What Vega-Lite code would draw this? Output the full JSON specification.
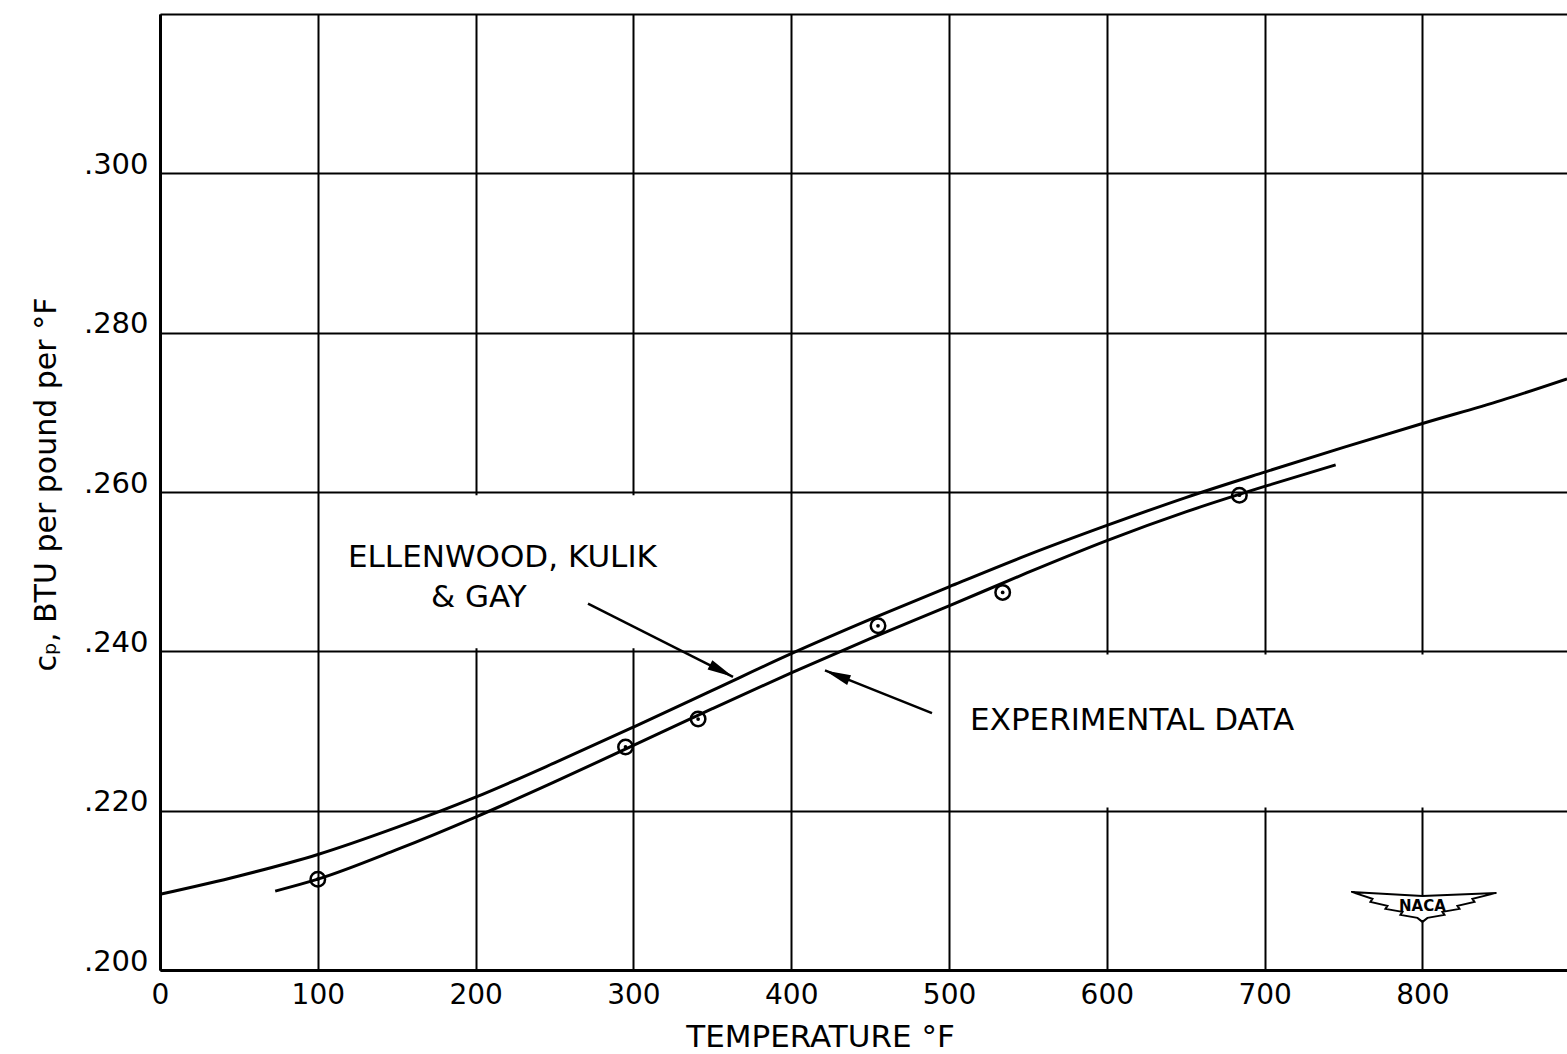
{
  "$schema": "https://vega.github.io/schema/vega-lite/v6.json",
  "width": 1407,
  "height": 956,
  "autosize": {"type": "none"},
  "padding": {"left": 160, "top": 14, "right": 0, "bottom": 84},
  "background": "white",
  "config": {"view": {"stroke": null}, "font": "DejaVu Sans"},
  "datasets": {
    "curves": [
      {"series": "Ellenwood, Kulik & Gay", "temp": 0, "cp": 0.2095},
      {"series": "Ellenwood, Kulik & Gay", "temp": 50, "cp": 0.2118},
      {"series": "Ellenwood, Kulik & Gay", "temp": 100, "cp": 0.2145},
      {"series": "Ellenwood, Kulik & Gay", "temp": 150, "cp": 0.2179},
      {"series": "Ellenwood, Kulik & Gay", "temp": 200, "cp": 0.2217},
      {"series": "Ellenwood, Kulik & Gay", "temp": 250, "cp": 0.2260},
      {"series": "Ellenwood, Kulik & Gay", "temp": 300, "cp": 0.2305},
      {"series": "Ellenwood, Kulik & Gay", "temp": 350, "cp": 0.2351},
      {"series": "Ellenwood, Kulik & Gay", "temp": 400, "cp": 0.2397},
      {"series": "Ellenwood, Kulik & Gay", "temp": 450, "cp": 0.2440},
      {"series": "Ellenwood, Kulik & Gay", "temp": 500, "cp": 0.2481},
      {"series": "Ellenwood, Kulik & Gay", "temp": 550, "cp": 0.2521},
      {"series": "Ellenwood, Kulik & Gay", "temp": 600, "cp": 0.2558},
      {"series": "Ellenwood, Kulik & Gay", "temp": 650, "cp": 0.2593},
      {"series": "Ellenwood, Kulik & Gay", "temp": 700, "cp": 0.2625},
      {"series": "Ellenwood, Kulik & Gay", "temp": 750, "cp": 0.2656},
      {"series": "Ellenwood, Kulik & Gay", "temp": 800, "cp": 0.2686},
      {"series": "Ellenwood, Kulik & Gay", "temp": 850, "cp": 0.2715},
      {"series": "Ellenwood, Kulik & Gay", "temp": 891.6, "cp": 0.2742},
      {"series": "Experimental data", "temp": 73, "cp": 0.2099},
      {"series": "Experimental data", "temp": 100, "cp": 0.2114},
      {"series": "Experimental data", "temp": 150, "cp": 0.2151},
      {"series": "Experimental data", "temp": 200, "cp": 0.2192},
      {"series": "Experimental data", "temp": 250, "cp": 0.2236},
      {"series": "Experimental data", "temp": 300, "cp": 0.2282},
      {"series": "Experimental data", "temp": 350, "cp": 0.2328},
      {"series": "Experimental data", "temp": 400, "cp": 0.2373},
      {"series": "Experimental data", "temp": 450, "cp": 0.2416},
      {"series": "Experimental data", "temp": 500, "cp": 0.2457},
      {"series": "Experimental data", "temp": 550, "cp": 0.2499},
      {"series": "Experimental data", "temp": 600, "cp": 0.2539},
      {"series": "Experimental data", "temp": 650, "cp": 0.2575},
      {"series": "Experimental data", "temp": 700, "cp": 0.2607},
      {"series": "Experimental data", "temp": 745, "cp": 0.2634}
    ],
    "points": [
      {"temp": 100, "cp": 0.2114},
      {"temp": 295, "cp": 0.2280},
      {"temp": 341, "cp": 0.2315},
      {"temp": 455, "cp": 0.2432},
      {"temp": 534, "cp": 0.2474},
      {"temp": 684, "cp": 0.2596}
    ],
    "arrows": [
      {"arrow": "ellenwood", "temp": 363.1, "cp": 0.2368, "temp2": 271.2, "cp2": 0.2460},
      {"arrow": "experimental", "temp": 421.4, "cp": 0.2376, "temp2": 489.2, "cp2": 0.23225}
    ],
    "labels": [
      {"label": "ELLENWOOD, KULIK", "temp": 217, "cp": 0.2517},
      {"label": "& GAY", "temp": 202, "cp": 0.2467},
      {"label": "EXPERIMENTAL DATA", "temp": 616, "cp": 0.2313}
    ],
    "labelboxes": [
      {"temp": 103, "temp2": 397, "cp": 0.2404, "cp2": 0.2596},
      {"temp": 503, "temp2": 891.6, "cp": 0.2204, "cp2": 0.2396}
    ],
    "logo": [
      {"label": "NACA", "temp": 800, "cp": 0.2083}
    ]
  },
  "encoding": {
    "x": {
      "field": "temp",
      "type": "quantitative",
      "scale": {"domain": [0, 891.6], "nice": false, "zero": false},
      "axis": {
        "values": [0, 100, 200, 300, 400, 500, 600, 700, 800],
        "title": "TEMPERATURE °F",
        "titleFont": "DejaVu Sans",
        "titleFontSize": 31,
        "titleFontWeight": "normal",
        "titleColor": "black",
        "titleX": 660,
        "titleY": 76,
        "titleAlign": "center",
        "titleBaseline": "alphabetic",
        "labelFont": "DejaVu Sans",
        "labelFontSize": 28,
        "labelColor": "black",
        "labelPadding": 11,
        "labelFlush": false,
        "labelOverlap": false,
        "ticks": false,
        "domainColor": "black",
        "domainWidth": 3,
        "grid": true,
        "gridColor": "black",
        "gridWidth": 2,
        "gridOpacity": 1
      }
    },
    "y": {
      "field": "cp",
      "type": "quantitative",
      "scale": {"domain": [0.2, 0.32], "nice": false, "zero": false},
      "axis": {
        "values": [0.2, 0.22, 0.24, 0.26, 0.28, 0.3, 0.32],
        "labelExpr": "datum.value > 0.31 ? '' : replace(format(datum.value, '.3f'), '0.', '.')",
        "title": "cₚ, BTU per pound per °F",
        "titleFont": "DejaVu Sans",
        "titleFontSize": 30,
        "titleFontWeight": "normal",
        "titleColor": "black",
        "titleX": -105,
        "titleY": 470,
        "titleAlign": "center",
        "titleBaseline": "alphabetic",
        "labelFont": "DejaVu Sans",
        "labelFontSize": 29,
        "labelColor": "black",
        "labelPadding": 12,
        "labelBaseline": "alphabetic",
        "labelOverlap": false,
        "ticks": false,
        "domainColor": "black",
        "domainWidth": 3,
        "grid": true,
        "gridColor": "black",
        "gridWidth": 2,
        "gridOpacity": 1
      }
    }
  },
  "layer": [
    {
      "data": {"name": "labelboxes"},
      "mark": {"type": "rect", "color": "white", "opacity": 1},
      "encoding": {"x2": {"field": "temp2"}, "y2": {"field": "cp2"}}
    },
    {
      "data": {"name": "curves"},
      "mark": {"type": "line", "color": "black", "strokeWidth": 3, "interpolate": "monotone"},
      "encoding": {"detail": {"field": "series"}}
    },
    {
      "data": {"name": "points"},
      "mark": {"type": "point", "shape": "circle", "filled": false, "color": "black", "strokeWidth": 2.5, "size": 210, "opacity": 1}
    },
    {
      "data": {"name": "points"},
      "mark": {"type": "point", "shape": "circle", "filled": true, "color": "black", "size": 14, "opacity": 1}
    },
    {
      "data": {"name": "arrows"},
      "mark": {"type": "rule", "color": "black", "strokeWidth": 2.5},
      "encoding": {"x2": {"field": "temp2"}, "y2": {"field": "cp2"}}
    },
    {
      "data": {"name": "arrows"},
      "transform": [{"filter": "datum.arrow == 'ellenwood'"}],
      "mark": {"type": "point", "shape": "M0,0L0.3,1.5L-0.3,1.5Z", "filled": true, "color": "black", "size": 1200, "opacity": 1, "angle": 117.5}
    },
    {
      "data": {"name": "arrows"},
      "transform": [{"filter": "datum.arrow == 'experimental'"}],
      "mark": {"type": "point", "shape": "M0,0L0.3,1.5L-0.3,1.5Z", "filled": true, "color": "black", "size": 1200, "opacity": 1, "angle": 292}
    },
    {
      "data": {"name": "labels"},
      "mark": {"type": "text", "font": "DejaVu Sans", "fontSize": 31, "color": "black", "align": "center", "baseline": "middle"},
      "encoding": {"text": {"field": "label"}}
    },
    {
      "data": {"name": "logo"},
      "mark": {"type": "point", "shape": "M-7.1,-1.2L0,-0.8L7.4,-1.1L5,-0.5L5.2,-0.2L3.5,0.2L3.7,0.5L2,0.8L2.2,1.1L0.5,1.4L0,1.8L-0.5,1.4L-2.2,1.1L-2,0.8L-3.7,0.5L-3.5,0.2L-5.2,-0.2L-5,-0.5Z", "filled": true, "fill": "white", "stroke": "black", "strokeWidth": 2, "size": 400, "opacity": 1}
    },
    {
      "data": {"name": "logo"},
      "mark": {"type": "text", "font": "DejaVu Sans", "fontSize": 15, "fontWeight": "bold", "color": "black", "align": "center", "baseline": "middle", "dy": 2},
      "encoding": {"text": {"field": "label"}}
    }
  ]
}
